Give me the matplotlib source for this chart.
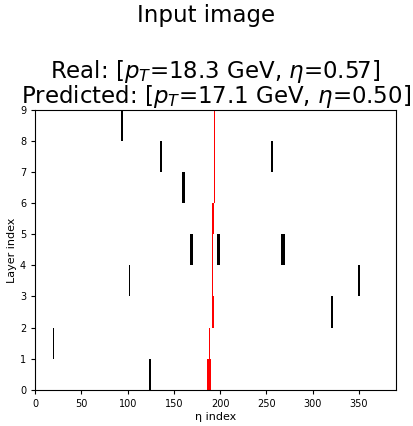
import matplotlib
matplotlib.use("Agg")
import matplotlib.pyplot as plt

# hits (black): eta index centre, layer, width in eta bins
hit_eta = [20, 102, 124, 136, 160, 169, 198, 256, 268, 321, 350, 94]
hit_layer = [1, 3, 0, 7, 6, 4, 4, 7, 4, 2, 3, 8]
hit_width = [1.2, 1.2, 2, 1.2, 3.5, 2.5, 3, 1.2, 5, 2.5, 2, 2.5]

# predicted track (red): eta index per layer
track_layer = [0, 1, 2, 3, 4, 5, 6, 7, 8]
track_eta = [188, 188.5, 192, 192, 192, 192, 194, 193.7, 193.4]
track_width = [4, 1.2, 1.5, 1.2, 1.2, 1.5, 1.5, 1.2, 1.2]

suptitle = "Input image"
title = ("Real: [$p_T$=18.3 GeV, $\\eta$=0.57]\n"
         "Predicted: [$p_T$=17.1 GeV, $\\eta$=0.50]")

fig = plt.figure(figsize=(4.13, 4.26), dpi=100)
ax = fig.add_axes([0.085, 0.085, 0.874, 0.657])

ax.bar(hit_eta, [1] * len(hit_eta), width=hit_width, bottom=hit_layer,
       color="black", linewidth=0)
ax.bar(track_eta, [1] * len(track_eta), width=track_width, bottom=track_layer,
       color="red", linewidth=0)

ax.set_xlim(0, 390)
ax.set_ylim(0, 9)
ax.set_xticks(range(0, 351, 50))
ax.set_yticks(range(0, 10))
ax.tick_params(labelsize=7, length=3)
ax.set_xlabel("η index", fontsize=8, labelpad=2)
ax.set_ylabel("Layer index", fontsize=8, labelpad=2)
ax.set_title(title, fontsize=16.5, linespacing=0.9, pad=1)
fig.suptitle(suptitle, fontsize=16.5, y=0.99, va="top")

fig.savefig("out.png", dpi=100)
